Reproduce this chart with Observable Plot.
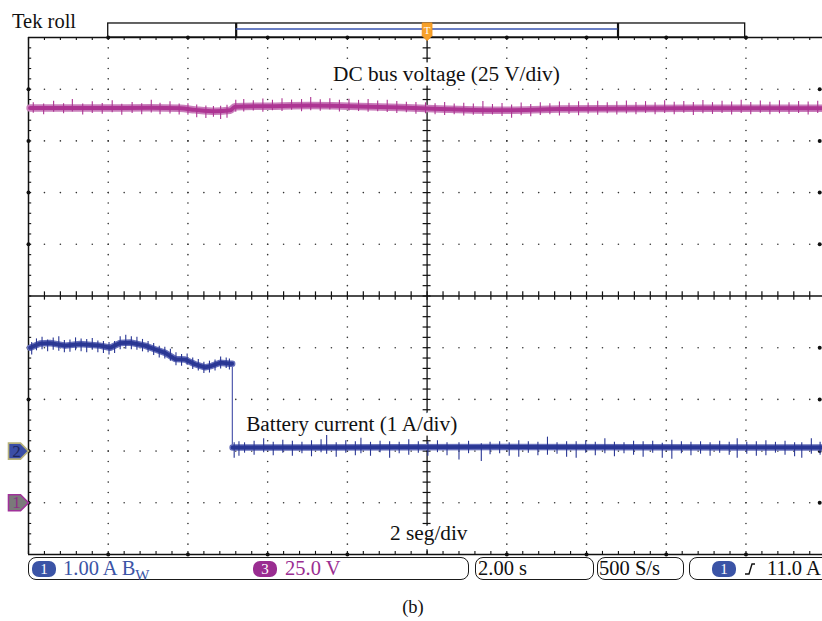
<!DOCTYPE html>
<html><head><meta charset="utf-8">
<script src="https://cdn.jsdelivr.net/npm/d3@7"></script>
<script src="https://cdn.jsdelivr.net/npm/@observablehq/plot@0.6"></script>
<style>
html,body{margin:0;padding:0;background:#fff;overflow:hidden}
#wrap{position:relative;width:822px;height:621px;font-family:"Liberation Serif","DejaVu Serif",serif;color:#111;overflow:hidden}
#chart{position:absolute;left:0;top:0}
#tek{position:absolute;left:12px;top:9px;font-size:20.5px;line-height:24px}
.box{position:absolute;top:557px;height:23px;border:1.5px solid #1a1a1a;border-radius:8px;box-sizing:border-box}
.lbl{position:absolute;top:557px;line-height:23px;font-size:20.5px;white-space:nowrap}
.lbl sub{font-size:15px;vertical-align:-5px;line-height:0}
.badge{position:absolute;top:561px;width:24px;height:16px;border-radius:7px;color:#fff;font-size:15px;line-height:16px;text-align:center}
#cap{position:absolute;left:0;width:826px;top:595px;text-align:center;font-size:18.5px;line-height:24px}
#edge{position:absolute;left:744px;top:562px}
</style></head>
<body>
<div id="wrap">
  <div id="chart"></div>
  <div id="tek">Tek roll</div>
  <div class="box" style="left:28px;width:441px"></div>
  <div class="badge" style="left:32px;background:#3b54a6">1</div>
  <div class="lbl" style="left:63px;color:#3b54a6">1.00 A B<sub>W</sub></div>
  <div class="badge" style="left:253px;background:#9a2d91">3</div>
  <div class="lbl" style="left:285px;color:#9a2d91">25.0 V</div>
  <div class="box" style="left:475px;width:119px"></div>
  <div class="lbl" style="left:478px">2.00 s</div>
  <div class="box" style="left:597px;width:87px"></div>
  <div class="lbl" style="left:599px">500 S/s</div>
  <div class="box" style="left:689px;width:160px"></div>
  <div class="badge" style="left:712px;background:#3b54a6">1</div>
  <svg id="edge" width="12" height="14"><path d="M1,12 L5,12 L8,2 L11,2" fill="none" stroke="#111" stroke-width="1.4"/></svg>
  <div class="lbl" style="left:767px">11.0 A</div>
  <div id="cap">(b)</div>
</div>
<script>
// ---- scope settings ----
const voltsPerDiv = 25;      // channel 3
const voltGroundDiv = -4;    // ground marker position (divisions)
const ampsPerDiv = 1;        // channel 1
const ampGroundDiv = -3;
const secondsPerDiv = 2;

// ---- DC bus voltage trace (s, V) ----
const voltTime  = [-9.96, -8.21, -6.95, -6.20, -5.82, -5.32, -4.94, -4.82, -3.94, -2.94, -1.93, -0.68, 0.33, 1.83, 3.34, 4.34, 6.85, 8.36, 9.92];
const voltValue = [190.9, 190.9, 191.0, 190.8, 190.0, 189.3, 189.8, 191.5, 191.8, 192.1, 191.8, 191.2, 190.4, 189.8, 190.4, 190.5, 190.8, 190.8, 190.8];

// noise spikes on the voltage trace: [s, low V, high V]
const voltSpikes = [
  [-9.88,188.4,193.5],[-9.62,187.6,192.8],[-9.37,188.9,194.2],[-9.12,188.1,193.0],[-8.90,189.0,195.0],
  [-8.64,187.5,192.9],[-8.40,188.2,193.9],[-8.15,187.9,193.1],[-7.90,188.6,194.4],[-7.66,187.4,192.7],
  [-7.40,188.3,193.6],[-7.16,187.7,193.0],[-6.92,188.5,194.6],[-6.70,187.6,193.2],[-6.45,188.0,193.9],
  [-6.22,187.5,192.8],[-6.00,187.4,193.0],[-5.78,186.2,192.4],[-5.55,185.8,191.9],[-5.36,186.4,191.6],
  [-5.18,185.3,191.7],[-5.02,186.0,192.2],[-4.80,188.8,194.6],[-4.60,189.0,195.0],[-4.36,189.4,194.4],
  [-4.12,188.9,195.3],[-3.88,189.6,194.6],[-3.64,189.2,195.4],[-3.40,189.8,194.8],[-3.15,189.1,195.0],
  [-2.92,189.6,196.0],[-2.68,189.3,194.9],[-2.44,189.9,195.4],[-2.20,189.0,194.7],[-1.96,189.5,195.2],
  [-1.72,189.2,194.6],[-1.48,188.8,195.0],[-1.24,189.1,194.3],[-1.00,188.7,194.6],[-0.76,188.3,194.0],
  [-0.52,188.6,193.7],[-0.28,187.9,193.6],[-0.04,188.1,193.4],[0.20,187.7,193.0],[0.44,187.3,193.6],
  [0.68,187.6,192.8],[0.92,187.0,193.2],[1.16,187.4,192.9],[1.40,186.9,194.0],[1.64,187.5,192.6],
  [1.88,186.8,193.1],[2.12,185.9,192.4],[2.36,187.2,193.3],[2.60,186.7,192.6],[2.84,187.3,193.5],
  [3.08,187.6,193.0],[3.32,187.1,193.8],[3.56,187.8,193.2],[3.80,187.2,193.9],[4.04,187.9,193.3],
  [4.28,187.4,194.2],[4.52,188.1,193.4],[4.76,187.5,193.9],[5.00,188.0,194.3],[5.24,187.6,193.6],
  [5.48,188.3,194.0],[5.72,187.7,193.5],[5.96,188.2,194.4],[6.20,187.6,193.7],[6.44,188.4,194.1],
  [6.68,187.3,193.6],[6.92,188.1,194.5],[7.16,187.8,193.5],[7.40,188.3,194.2],[7.64,187.5,193.8],
  [7.88,188.2,194.6],[8.12,187.7,193.6],[8.36,188.4,194.3],[8.60,187.6,193.7],[8.84,188.1,194.4],
  [9.08,187.8,193.5],[9.32,188.3,194.0],[9.56,187.5,193.8],[9.80,188.2,194.2]
];

// ---- battery current trace (s, A) ----
const currTime  = [-9.96, -9.71, -9.46, -9.08, -8.71, -8.21, -7.95, -7.70, -7.45, -7.08, -6.83, -6.57, -6.32, -6.07, -5.82, -5.57, -5.40, -5.19, -4.94, -4.89, -4.88, -3.00, 1.83, 9.92];
const currValue = [2.00, 2.08, 2.09, 2.04, 2.07, 2.04, 2.00, 2.09, 2.10, 2.04, 1.97, 1.90, 1.78, 1.77, 1.68, 1.62, 1.65, 1.71, 1.69, 1.69, 0.07, 0.07, 0.08, 0.07];
const currStepTime = -4.885;   // converter switches off

// noise spikes on the current trace: [s, low A, high A]
const currSpikes = [
  [-9.92,1.86,2.10],[-9.80,1.94,2.17],[-9.66,1.96,2.20],[-9.52,1.92,2.15],[-9.38,1.95,2.19],
  [-9.24,1.93,2.21],[-9.10,1.90,2.14],[-8.96,1.91,2.15],[-8.82,1.94,2.19],[-8.68,1.92,2.17],
  [-8.54,1.90,2.16],[-8.40,1.95,2.18],[-8.26,1.90,2.13],[-8.12,1.89,2.12],[-7.98,1.86,2.10],
  [-7.84,1.89,2.12],[-7.70,1.96,2.21],[-7.56,1.97,2.24],[-7.42,1.96,2.21],[-7.28,1.95,2.20],
  [-7.14,1.92,2.16],[-7.00,1.90,2.12],[-6.86,1.85,2.08],[-6.72,1.80,2.03],[-6.58,1.78,2.01],
  [-6.44,1.74,1.97],[-6.30,1.65,1.90],[-6.16,1.64,1.87],[-6.02,1.66,1.88],[-5.88,1.58,1.80],
  [-5.74,1.55,1.77],[-5.60,1.50,1.72],[-5.46,1.51,1.74],[-5.32,1.55,1.76],[-5.18,1.59,1.82],
  [-5.04,1.60,1.80],[-4.96,1.57,1.78],
  [-4.84,-0.14,0.16],[-4.72,-0.10,0.18],[-4.58,-0.04,0.16],[-4.34,-0.08,0.19],[-4.10,-0.03,0.24],
  [-3.86,-0.09,0.17],[-3.62,-0.04,0.21],[-3.38,-0.10,0.19],[-3.14,-0.05,0.17],[-2.90,-0.11,0.20],
  [-2.66,-0.03,0.22],[-2.52,-0.06,0.30],[-2.28,-0.12,0.16],[-2.04,-0.04,0.20],[-1.80,-0.09,0.18],
  [-1.66,-0.05,0.25],[-1.42,-0.10,0.17],[-1.18,-0.03,0.19],[-0.94,-0.14,0.18],[-0.70,-0.05,0.17],
  [-0.46,-0.08,0.22],[-0.22,-0.04,0.18],[0.02,-0.10,0.18],[0.26,-0.03,0.20],[0.50,-0.09,0.16],
  [0.80,-0.17,0.16],[1.04,-0.05,0.19],[1.36,-0.20,0.14],[1.58,-0.07,0.17],[1.82,-0.05,0.18],
  [2.06,-0.10,0.16],[2.30,-0.12,0.20],[2.54,-0.04,0.18],[2.78,-0.09,0.17],[3.02,-0.08,0.27],
  [3.26,-0.06,0.16],[3.50,-0.12,0.18],[3.74,-0.14,0.18],[3.98,-0.04,0.20],[4.22,-0.09,0.17],
  [4.46,-0.05,0.24],[4.70,-0.11,0.17],[4.94,-0.05,0.16],[5.18,-0.08,0.19],[5.42,-0.12,0.18],
  [5.66,-0.04,0.19],[5.90,-0.14,0.15],[6.14,-0.16,0.21],[6.38,-0.05,0.18],[6.62,-0.09,0.17],
  [6.86,-0.06,0.18],[7.10,-0.10,0.16],[7.34,-0.04,0.19],[7.58,-0.08,0.17],[7.78,-0.14,0.24],
  [8.02,-0.06,0.17],[8.26,-0.10,0.18],[8.50,-0.09,0.20],[8.74,-0.04,0.17],[8.98,-0.08,0.19],
  [9.22,-0.11,0.16],[9.40,-0.14,0.16],[9.64,-0.06,0.24],[9.86,-0.08,0.17]
];

// ---- annotations ----
const noteText = ["DC bus voltage (25 V/div)", "Battery current (1 A/div)", "2 seg/div"];
const noteTime = [-2.36, -4.54, -0.93];
const noteDiv  = [4.30, -2.47, -4.58];

// ---- ground markers ----
const markerLabels = ["2", "1"];
const markerDivs = [ampGroundDiv, voltGroundDiv];

// ---- derived tables ----
const vDiv = v => v / voltsPerDiv + voltGroundDiv;
const aDiv = a => a / ampsPerDiv + ampGroundDiv;
const volt = voltTime.map((t, i) => ({t, y: vDiv(voltValue[i])}));
const curr = currTime.map((t, i) => ({t, y: aDiv(currValue[i]), seg: t < currStepTime ? "on" : "off"}));
const stepIdx = currTime.findIndex(t => t > currStepTime);
const currStepLo = aDiv(currValue[stepIdx]);
const currStepHi = aDiv(currValue[stepIdx - 1]);
const vSp = voltSpikes.map(([t, lo, hi]) => ({t, y1: vDiv(lo), y2: vDiv(hi)}));
const cSp = currSpikes.map(([t, lo, hi]) => ({t, y1: aDiv(lo), y2: aDiv(hi)}));
const markers = markerLabels.map((l, i) => ({label: l, y: markerDivs[i]}));
const notes = noteText.map((s, i) => ({s, x: noteTime[i], y: noteDiv[i]}));

const tMin = -5 * secondsPerDiv;
const tMax = 9.92;
const majorX = d3.range(-4, 5).filter(d => d !== 0).map(d => d * secondsPerDiv);
const majorY = [-4, -3, -2, -1, 1, 2, 3, 4];
const minorX = d3.range(0, 50).map(k => tMin + k * secondsPerDiv / 5);
const minorY = d3.range(1, 50).map(k => -5 + k * 0.2);
const gridDots = [
  ...majorY.flatMap(y => minorX.slice(1).map(x => ({x, y}))),
  ...majorX.flatMap(x => minorY.map(y => ({x, y})))
];

const flag = {draw(c) { c.moveTo(-20, -8); c.lineTo(-8, -8); c.lineTo(0, 0); c.lineTo(-8, 8); c.lineTo(-20, 8); c.closePath(); }};
const trig = {draw(c) { c.moveTo(-5, -9); c.lineTo(5, -9); c.lineTo(5, 4); c.lineTo(0, 9); c.lineTo(-5, 4); c.closePath(); }};

const serif = "Liberation Serif, DejaVu Serif, serif";
const magenta = "#ad3593", blue = "#2a3794";
const plot = Plot.plot({
  width: 822, height: 556,
  marginLeft: 28, marginRight: 0, marginTop: 37, marginBottom: 2,
  x: {domain: [tMin, tMax], axis: null},
  y: {domain: [-5, 5], axis: null},
  style: {background: "transparent", overflow: "visible"},
  marks: [
    // grid dots
    Plot.dot(gridDots, {x: "x", y: "y", r: 0.8, fill: "#333", stroke: null}),
    // centre crosshair with ticks
    Plot.ruleX([0], {stroke: "#111", strokeWidth: 1.3}),
    Plot.ruleY([0], {x1: tMin, x2: tMax, stroke: "#111", strokeWidth: 1.3}),
    Plot.ruleY(minorY, {x1: -0.1, x2: 0.1, stroke: "#111", strokeWidth: 1.2}),
    Plot.ruleX(minorX.slice(1), {y1: -0.08, y2: 0.08, stroke: "#111", strokeWidth: 1.2}),
    // borders
    Plot.ruleY([5, -5], {x1: tMin, x2: tMax, stroke: "#111", strokeWidth: 1.5}),
    Plot.ruleX([tMin], {y1: -5, y2: 5, stroke: "#111", strokeWidth: 1.5}),
    Plot.ruleX(minorX, {y1: 5, y2: 4.94, stroke: "#111", strokeWidth: 1.1}),
    Plot.ruleX(minorX, {y1: -5, y2: -4.94, stroke: "#111", strokeWidth: 1.1}),
    Plot.ruleY(minorY, {x1: tMin, x2: tMin + 0.08, stroke: "#111", strokeWidth: 1.1}),
    Plot.dot(majorX, {x: d => d, y: 5, r: 2, fill: "#111"}),
    Plot.dot(majorX, {x: d => d, y: -5, r: 2, fill: "#111"}),
    Plot.dot(majorY, {x: tMin, y: d => d, r: 2, fill: "#111"}),
    Plot.dot(majorY, {x: 9.85, y: d => d, r: 2, fill: "#111"}),
    // record-length bar
    Plot.rect([{x1: -8, x2: 7.98, y1: 5, y2: 5.271}], {x1: "x1", x2: "x2", y1: "y1", y2: "y2", fill: "none", stroke: "#111", strokeWidth: 1.3}),
    Plot.ruleX([-4.79, 4.79], {y1: 5, y2: 5.271, stroke: "#111", strokeWidth: 2.2}),
    Plot.ruleY([5.163], {x1: -4.79, x2: 4.79, stroke: "#3a55b0", strokeWidth: 1.6}),
    Plot.dot([0], {x: d => d, y: 5.11, symbol: trig, r: 5, fill: "#f7a12a", stroke: "#e8891a", strokeWidth: 0.6}),
    Plot.text([0], {x: d => d, y: 5.13, text: () => "T", fill: "#fff", fontSize: 11, fontFamily: serif}),
    // annotations (white halo knocks out the grid behind them)
    Plot.text(notes, {x: "x", y: "y", text: "s", textAnchor: "start", fontSize: 21.3, fontFamily: serif, fill: "#111", stroke: "#fff", strokeWidth: 9}),
    // voltage trace
    Plot.line(volt, {x: "t", y: "y", stroke: "#c97fbb", strokeWidth: 7.5, curve: "monotone-x"}),
    Plot.line(volt, {x: "t", y: "y", stroke: magenta, strokeWidth: 4, curve: "monotone-x"}),
    Plot.ruleX(vSp, {x: "t", y1: "y1", y2: "y2", stroke: magenta, strokeWidth: 1.1}),
    // current trace
    Plot.ruleX([currStepTime], {y1: currStepLo, y2: currStepHi, stroke: "#5a63b2", strokeWidth: 1.3}),
    Plot.line(curr, {x: "t", y: "y", z: "seg", stroke: "#6770bb", strokeWidth: 6.5}),
    Plot.line(curr, {x: "t", y: "y", z: "seg", stroke: blue, strokeWidth: 3.8}),
    Plot.ruleX(cSp, {x: "t", y1: "y1", y2: "y2", stroke: blue, strokeWidth: 1.1}),
    // ground markers
    Plot.dot(markers, {x: tMin, y: "y", symbol: flag, r: 8, fill: (d, i) => i === 0 ? "#3b4ea6" : "#7a7a7a", stroke: (d, i) => i === 0 ? "#b8b27a" : "#a0329a", strokeWidth: 1.6}),
    Plot.text(markers, {x: tMin, y: "y", text: "label", dx: -12, fill: (d, i) => i === 0 ? "#1c275e" : "#8e2f88", fontSize: 17, fontFamily: serif})
  ]
});
document.getElementById("chart").appendChild(plot);
</script>
</body></html>
